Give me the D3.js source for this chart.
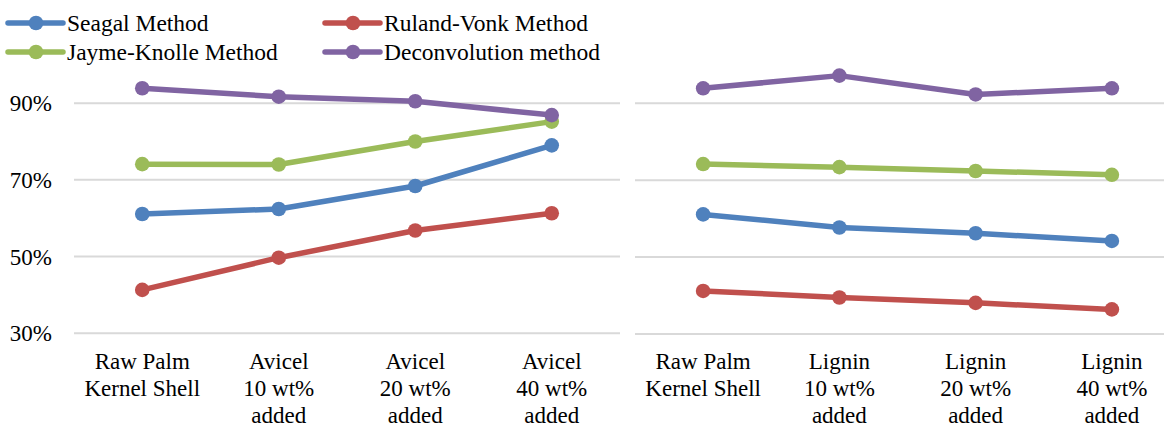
<!DOCTYPE html>
<html>
<head>
<meta charset="utf-8">
<script src="https://cdn.jsdelivr.net/npm/d3@7"></script>
<style>
  html, body { margin: 0; padding: 0; background: #fff; }
  svg { display: block; }
</style>
</head>
<body>
<svg id="chart" width="1164" height="426"></svg>
<script>
// ---- data ----
const avicelCategories = [
  ["Raw Palm", "Kernel Shell"],
  ["Avicel", "10 wt%", "added"],
  ["Avicel", "20 wt%", "added"],
  ["Avicel", "40 wt%", "added"]
];
const ligninCategories = [
  ["Raw Palm", "Kernel Shell"],
  ["Lignin", "10 wt%", "added"],
  ["Lignin", "20 wt%", "added"],
  ["Lignin", "40 wt%", "added"]
];
const seriesNames = ["Seagal Method", "Ruland-Vonk Method", "Jayme-Knolle Method", "Deconvolution method"];
const seriesColors = ["#4F81BD", "#C0504D", "#9BBB59", "#8064A2"];

const seagalAvicel = [61.1, 62.4, 68.4, 79.0];
const rulandAvicel = [41.3, 49.7, 56.8, 61.3];
const jaymeAvicel  = [74.1, 74.0, 80.0, 85.2];
const deconvAvicel = [93.9, 91.7, 90.5, 86.9];

const seagalLignin = [61.1, 57.7, 56.2, 54.2];
const rulandLignin = [41.2, 39.5, 38.1, 36.4];
const jaymeLignin  = [74.2, 73.4, 72.4, 71.4];
const deconvLignin = [93.9, 97.2, 92.3, 93.9];

const yTicks = [30, 50, 70, 90];
const yDomain = [30, 100];

// ---- drawing ----
const FONT = "'Liberation Serif', 'Times New Roman', Tinos, serif";
const svg = d3.select("#chart");
const lineW = 5.5, markerR = 7.3;

function panel(cfg) {
  const x = d3.scaleBand().domain(d3.range(cfg.categories.length)).range([cfg.x0, cfg.x1]);
  const y = d3.scaleLinear().domain(yDomain).range([cfg.yBottom, cfg.yTop]);
  const g = svg.append("g");

  // gridlines
  g.selectAll("line.grid").data(yTicks).join("line")
    .attr("x1", cfg.x0).attr("x2", cfg.x1)
    .attr("y1", d => y(d)).attr("y2", d => y(d))
    .attr("stroke", "#D9D9D9").attr("stroke-width", 2);

  // y axis labels
  if (cfg.showY) {
    g.selectAll("text.ytick").data(yTicks).join("text")
      .attr("x", 52).attr("y", d => y(d) + 8)
      .attr("text-anchor", "end").attr("font-size", 23).attr("fill", "#000")
      .style("font-family", FONT)
      .text(d => d + "%");
  }

  // category labels
  const cat = g.selectAll("text.cat").data(cfg.categories).join("text")
    .attr("text-anchor", "middle").attr("font-size", 23).attr("fill", "#000")
    .style("font-family", FONT);
  cat.each(function(lines, i) {
    const t = d3.select(this);
    lines.forEach((ln, k) => {
      t.append("tspan")
        .attr("x", x(i) + x.bandwidth() / 2)
        .attr("y", 368.5 + k * 27)
        .text(ln);
    });
  });

  const line = d3.line()
    .x((d, i) => x(i) + x.bandwidth() / 2)
    .y(d => y(d));

  cfg.series.forEach((vals, s) => {
    g.append("path").datum(vals)
      .attr("fill", "none").attr("stroke", seriesColors[s])
      .attr("stroke-width", lineW).attr("stroke-linejoin", "round")
      .attr("d", line);
    g.selectAll(null).data(vals).join("circle")
      .attr("cx", (d, i) => x(i) + x.bandwidth() / 2)
      .attr("cy", d => y(d))
      .attr("r", markerR).attr("fill", seriesColors[s]);
  });
}

panel({
  categories: avicelCategories,
  series: [seagalAvicel, rulandAvicel, jaymeAvicel, deconvAvicel],
  x0: 74, x1: 620, yBottom: 333.2, yTop: 333.2 - 70 * 3.8333, showY: true
});
panel({
  categories: ligninCategories,
  series: [seagalLignin, rulandLignin, jaymeLignin, deconvLignin],
  x0: 635, x1: 1180, yBottom: 334.0, yTop: 334.0 - 70 * 3.845, showY: false
});

// legend
const legendPos = [
  { x: 8, y: 23 }, { x: 325, y: 23 },
  { x: 8, y: 52 }, { x: 325, y: 52 }
];
const lg = svg.append("g");
seriesNames.forEach((name, i) => {
  const p = legendPos[i];
  lg.append("line")
    .attr("x1", p.x).attr("x2", p.x + 55)
    .attr("y1", p.y).attr("y2", p.y)
    .attr("stroke", seriesColors[i]).attr("stroke-width", lineW).attr("stroke-linecap", "round");
  lg.append("circle").attr("cx", p.x + 28).attr("cy", p.y).attr("r", markerR).attr("fill", seriesColors[i]);
  lg.append("text")
    .attr("x", p.x + 59).attr("y", p.y + 8)
    .attr("font-size", 23.5).attr("fill", "#000")
    .style("font-family", FONT)
    .text(name);
});
</script>
</body>
</html>
